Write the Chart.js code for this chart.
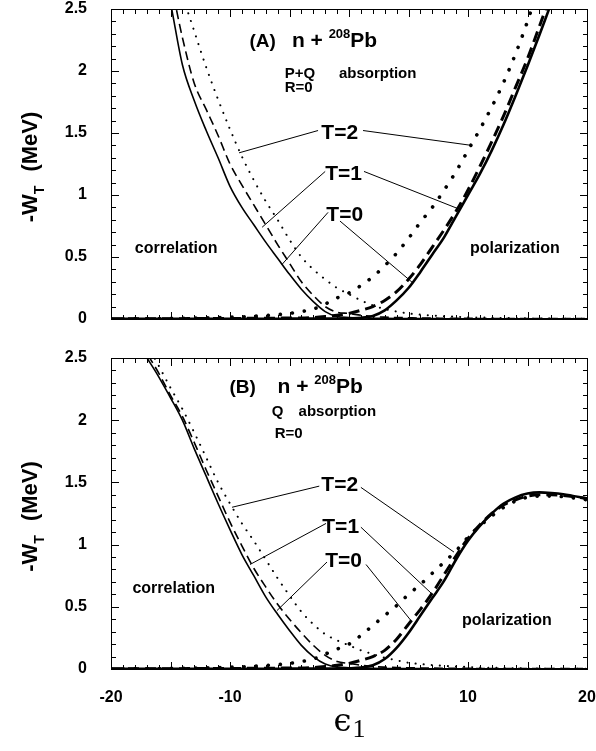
<!DOCTYPE html>
<html>
<head>
<meta charset="utf-8">
<script src="https://cdn.jsdelivr.net/npm/chart.js@4.4.0/dist/chart.umd.min.js"></script>
<style>
  html, body { margin: 0; padding: 0; background: #fff; }
  canvas { position: absolute; left: 0; }
  .frame { position: absolute; border: 1px solid #000; box-sizing: border-box; pointer-events: none; }
</style>
</head>
<body>
<canvas id="chartA" width="596" height="330" style="top:0"></canvas>
<canvas id="chartB" width="596" height="421" style="top:330px"></canvas>
<script>
// energy grid (epsilon_1)
const eps = [-20, -18, -16, -15, -14, -13, -12, -11, -10, -9, -8, -7, -6, -5, -4, -3, -2, -1, 0,
             1, 2, 3, 4, 5, 6, 7, 8, 9, 10, 11, 12, 13, 14, 15, 16, 17, 18, 20];

// (A) P+Q absorption - correlation part
const corrA_T0 = [4.6, 3.7, 3.0, 2.55, 2.05, 1.76, 1.52, 1.3, 1.07, 0.9, 0.76, 0.62, 0.49, 0.36, 0.24, 0.14, 0.06, 0.02, 0.012,
                  0.008, 0.006, 0.005, 0.004, 0.003, 0.003, 0.003, 0.002, 0.002, 0.002, 0.002, 0.002, 0.001, 0.001, 0.001, 0.001, 0.001, 0.001, 0.001];
const corrA_T1 = [4.8, 3.8, 3.1, 2.72, 2.27, 1.9, 1.69, 1.48, 1.25, 1.08, 0.92, 0.76, 0.6, 0.45, 0.3, 0.19, 0.1, 0.055, 0.045,
                  0.03, 0.02, 0.015, 0.012, 0.01, 0.008, 0.007, 0.006, 0.005, 0.005, 0.004, 0.004, 0.004, 0.003, 0.003, 0.003, 0.003, 0.003, 0.003];
const corrA_T2 = [5.0, 4.0, 3.3, 3.0, 2.62, 2.32, 2.03, 1.77, 1.53, 1.31, 1.12, 0.95, 0.8, 0.64, 0.5, 0.4, 0.32, 0.25, 0.2,
                  0.15, 0.11, 0.08, 0.06, 0.045, 0.035, 0.028, 0.022, 0.018, 0.015, 0.012, 0.01, 0.008, 0.006, 0.005, 0.004, 0.003, 0.002, 0.001];
// (A) polarization part
const polA_T0 = [0.001, 0.001, 0.001, 0.001, 0.001, 0.001, 0.001, 0.001, 0.002, 0.002, 0.002, 0.002, 0.002, 0.003, 0.003, 0.003, 0.003, 0.004, 0.006,
                 0.01, 0.025, 0.07, 0.15, 0.25, 0.38, 0.52, 0.66, 0.83, 1.0, 1.17, 1.36, 1.57, 1.8, 2.04, 2.29, 2.55, 2.83, 3.4];
const polA_T1 = [0.002, 0.002, 0.003, 0.003, 0.003, 0.004, 0.004, 0.004, 0.005, 0.005, 0.006, 0.006, 0.007, 0.008, 0.008, 0.012, 0.02, 0.03, 0.045,
                 0.07, 0.1, 0.15, 0.22, 0.32, 0.44, 0.58, 0.72, 0.87, 1.04, 1.23, 1.43, 1.64, 1.87, 2.1, 2.36, 2.63, 2.92, 3.5];
const polA_T2 = [0.002, 0.003, 0.004, 0.005, 0.006, 0.008, 0.01, 0.012, 0.015, 0.018, 0.022, 0.028, 0.035, 0.045, 0.06, 0.08, 0.12, 0.17, 0.21,
                 0.27, 0.34, 0.43, 0.53, 0.65, 0.78, 0.9, 1.04, 1.19, 1.36, 1.53, 1.71, 1.91, 2.14, 2.4, 2.7, 3.0, 3.3, 4.0];

// (B) Q absorption - correlation part
const corrB_T0 = [3.2, 2.68, 2.35, 2.18, 2.0, 1.77, 1.55, 1.33, 1.12, 0.92, 0.75, 0.58, 0.44, 0.31, 0.19, 0.1, 0.04, 0.015, 0.01,
                  0.007, 0.005, 0.004, 0.003, 0.003, 0.003, 0.002, 0.002, 0.002, 0.002, 0.002, 0.001, 0.001, 0.001, 0.001, 0.001, 0.001, 0.001, 0.001];
const corrB_T1 = [3.25, 2.72, 2.38, 2.2, 2.03, 1.82, 1.6, 1.39, 1.18, 0.99, 0.81, 0.66, 0.52, 0.4, 0.29, 0.19, 0.11, 0.06, 0.045,
                  0.03, 0.02, 0.015, 0.012, 0.01, 0.008, 0.007, 0.006, 0.005, 0.005, 0.004, 0.004, 0.004, 0.003, 0.003, 0.003, 0.003, 0.003, 0.003];
const corrB_T2 = [3.4, 2.8, 2.44, 2.26, 2.09, 1.9, 1.7, 1.5, 1.33, 1.17, 1.03, 0.88, 0.73, 0.59, 0.46, 0.36, 0.28, 0.23, 0.19,
                  0.15, 0.12, 0.09, 0.07, 0.05, 0.04, 0.032, 0.025, 0.02, 0.016, 0.013, 0.01, 0.008, 0.006, 0.005, 0.004, 0.003, 0.002, 0.001];
// (B) polarization part
const polB_T0 = [0.001, 0.001, 0.001, 0.001, 0.001, 0.001, 0.001, 0.001, 0.002, 0.002, 0.002, 0.002, 0.002, 0.003, 0.003, 0.003, 0.003, 0.004, 0.006,
                 0.012, 0.03, 0.08, 0.17, 0.29, 0.43, 0.57, 0.71, 0.88, 1.03, 1.15, 1.25, 1.33, 1.38, 1.41, 1.42, 1.415, 1.405, 1.37];
const polB_T1 = [0.002, 0.002, 0.003, 0.003, 0.003, 0.004, 0.004, 0.004, 0.005, 0.005, 0.006, 0.006, 0.007, 0.008, 0.008, 0.012, 0.02, 0.03, 0.045,
                 0.07, 0.1, 0.15, 0.24, 0.36, 0.48, 0.61, 0.76, 0.91, 1.05, 1.16, 1.25, 1.32, 1.36, 1.39, 1.4, 1.4, 1.395, 1.37];
const polB_T2 = [0.002, 0.003, 0.004, 0.005, 0.006, 0.008, 0.01, 0.012, 0.015, 0.018, 0.022, 0.028, 0.035, 0.045, 0.06, 0.08, 0.12, 0.16, 0.2,
                 0.27, 0.35, 0.43, 0.51, 0.6, 0.68, 0.77, 0.86, 0.95, 1.06, 1.15, 1.23, 1.3, 1.35, 1.38, 1.39, 1.39, 1.385, 1.36];

const SANS = '"Liberation Sans", Arial, Helvetica, sans-serif';

// line styles: correlation = thin, polarization = heavy
const styles = {
  corr0: { borderWidth: 1.6, borderDash: [] },
  corr1: { borderWidth: 1.6, borderDash: [9, 5] },
  corr2: { borderWidth: 2, borderDash: [0.1, 8], borderCapStyle: 'round' },
  pol0:  { borderWidth: 2.6, borderDash: [] },
  pol1:  { borderWidth: 3, borderDash: [11, 6] },
  pol2:  { borderWidth: 3.6, borderDash: [0.1, 12], borderCapStyle: 'round' }
};

function ds(vals, style) {
  return Object.assign({
    data: eps.map((e, i) => ({ x: e, y: vals[i] })),
    borderColor: '#000',
    pointRadius: 0,
    fill: false,
    cubicInterpolationMode: 'monotone'
  }, styles[style]);
}

// inward tick marks on all four sides (major every 5 / 0.5)
const ticksPlugin = {
  id: 'inticks',
  afterDraw(chart) {
    const { ctx, chartArea: a, scales: { x, y } } = chart;
    ctx.save();
    ctx.fillStyle = '#000';
    const L = Math.round(a.left), R = Math.round(a.right), T = Math.round(a.top), B = Math.round(a.bottom);
    ctx.fillRect(L, T, R - L + 1, 1);
    ctx.fillRect(L, B, R - L + 1, 1);
    ctx.fillRect(L, T, 1, B - T + 1);
    ctx.fillRect(R, T, 1, B - T + 1);
    for (let v = -20; v <= 20; v++) {
      const px = Math.round(x.getPixelForValue(v));
      const len = v % 5 === 0 ? 7 : 4;
      ctx.fillRect(px, B - len, 1, len);
      ctx.fillRect(px, T + 1, 1, len);
    }
    for (let i = 0; i <= 25; i++) {
      const py = Math.round(y.getPixelForValue(i / 10));
      const len = i % 5 === 0 ? 7 : 4;
      ctx.fillRect(L + 1, py, len, 1);
      ctx.fillRect(R - len, py, len, 1);
    }
    ctx.restore();
  }
};

// texts, pointer lines and axis titles
const notesPlugin = {
  id: 'notes',
  afterDraw(chart, args, opts) {
    const { ctx, chartArea: a, scales: { x, y } } = chart;
    const X = v => x.getPixelForValue(v);
    const Y = v => y.getPixelForValue(v);
    ctx.save();
    ctx.fillStyle = '#000';
    ctx.strokeStyle = '#000';
    ctx.textBaseline = 'alphabetic';
    (opts.texts || []).forEach(t => {
      let px = X(t.x);
      const py = Y(t.y);
      t.parts.forEach(p => {
        ctx.font = 'bold ' + p.size + 'px ' + SANS;
        ctx.textAlign = 'left';
        ctx.fillText(p.s, px, py - (p.rise || 0));
        px += ctx.measureText(p.s).width;
      });
    });

    ctx.lineWidth = 1;
    (opts.pointers || []).forEach(p => {
      ctx.font = 'bold 21px ' + SANS;
      ctx.textAlign = 'center';
      ctx.fillText(p.label, X(p.at[0]), Y(p.at[1]));
      ctx.beginPath();
      p.lines.forEach(l => {
        ctx.moveTo(X(l[0][0]), Y(l[0][1]));
        ctx.lineTo(X(l[1][0]), Y(l[1][1]));
      });
      ctx.stroke();
    });

    // y axis title  -W_T (MeV)
    ctx.translate(31, (a.top + a.bottom) / 2 + 3);
    ctx.rotate(-Math.PI / 2);
    const big = 'bold 22px ' + SANS, small = 'bold 14px ' + SANS;
    ctx.font = big; const w1 = ctx.measureText('-W').width; const w3 = ctx.measureText('(MeV)').width;
    ctx.font = small; const w2 = ctx.measureText('T').width;
    const gap = 14;
    let sx = -(w1 + w2 + gap + w3) / 2;
    ctx.textAlign = 'left';
    ctx.textBaseline = 'middle';
    ctx.font = big; ctx.fillText('-W', sx, 0); sx += w1;
    ctx.font = small; ctx.fillText('T', sx, 9); sx += w2 + gap;
    ctx.font = big; ctx.fillText('(MeV)', sx, 0);
    ctx.setTransform(1, 0, 0, 1, 0, 0);

    if (opts.xTitle) {
      const cx = X(0), cy = a.bottom + 62;
      ctx.textBaseline = 'alphabetic';
      ctx.textAlign = 'left';
      const fe = '32px "DejaVu Serif", serif', f1 = '26px "Liberation Serif", "Times New Roman", serif';
      ctx.font = fe; const we = ctx.measureText('\u03F5').width;
      ctx.font = f1; const w1b = ctx.measureText('1').width;
      const start = cx - (we + w1b) / 2;
      ctx.font = fe; ctx.fillText('\u03F5', start, cy);
      ctx.font = f1; ctx.fillText('1', start + we + 1, cy + 6);
    }
    ctx.restore();
  }
};

const axisBorder = { display: true, color: '#000', width: 1 };
const tickFont = { family: SANS, weight: 'bold', size: 16 };

function makeChart(id, datasets, cfg) {
  const canvas = document.getElementById(id);
  const chart = new Chart(canvas, {
    type: 'line',
    data: { datasets: datasets },
    options: {
      responsive: false,
      animation: false,
      devicePixelRatio: 1,
      layout: { padding: cfg.padding },
      plugins: {
        legend: { display: false },
        tooltip: { enabled: false },
        notes: cfg.notes
      },
      scales: {
        x: {
          type: 'linear', min: -20, max: 20,
          afterFit: s => { s.height = cfg.xHeight; s.paddingLeft = 0; s.paddingRight = 0; },
          grid: { display: false, drawTicks: false },
          border: axisBorder,
          ticks: { display: cfg.showX, stepSize: 10, padding: 19, color: '#000', font: tickFont }
        },
        xTop: {
          type: 'linear', position: 'top', min: -20, max: 20,
          afterFit: s => { s.height = 0; s.paddingLeft = 0; s.paddingRight = 0; },
          grid: { display: false, drawTicks: false },
          border: axisBorder,
          ticks: { display: false }
        },
        y: {
          type: 'linear', min: 0, max: 2.5,
          afterFit: s => { s.width = 111; s.paddingTop = 0; s.paddingBottom = 0; },
          grid: { display: false, drawTicks: false },
          border: axisBorder,
          ticks: { stepSize: 0.5, padding: 24, color: '#000', font: tickFont, callback: v => String(v) }
        },
        yRight: {
          type: 'linear', position: 'right', min: 0, max: 2.5,
          afterFit: s => { s.width = 0; s.paddingTop = 0; s.paddingBottom = 0; },
          grid: { display: false, drawTicks: false },
          border: axisBorder,
          ticks: { display: false }
        }
      }
    },
    plugins: [notesPlugin, ticksPlugin]
  });
  // plot frame, sized from the chart area
  const a = chart.chartArea;
  const box = document.createElement('div');
  box.className = 'frame';
  box.style.left = Math.round(a.left) + 'px';
  box.style.top = (canvas.offsetTop + Math.round(a.top)) + 'px';
  box.style.width = (Math.round(a.right - a.left) + 1) + 'px';
  box.style.height = (Math.round(a.bottom - a.top) + 1) + 'px';
  document.body.appendChild(box);
  return chart;
}

const nucleus = [{ s: 'n + ', size: 21 }, { s: '208', size: 13, rise: 9 }, { s: 'Pb', size: 21 }];

makeChart('chartA', [
  ds(corrA_T0, 'corr0'), ds(corrA_T1, 'corr1'), ds(corrA_T2, 'corr2'),
  ds(polA_T0, 'pol0'), ds(polA_T1, 'pol1'), ds(polA_T2, 'pol2')
], {
  padding: { top: 9, bottom: 0, right: 9, left: 0 },
  showX: false,
  xHeight: 11,
  notes: {
    texts: [
      { x: -8.36, y: 2.19, parts: [{ s: '(A)', size: 19 }] },
      { x: -4.8, y: 2.19, parts: nucleus },
      { x: -5.4, y: 1.94, parts: [{ s: 'P+Q', size: 15 }] },
      { x: -0.85, y: 1.94, parts: [{ s: 'absorption', size: 15 }] },
      { x: -5.4, y: 1.83, parts: [{ s: 'R=0', size: 15 }] },
      { x: -18.0, y: 0.53, parts: [{ s: 'correlation', size: 16 }] },
      { x: 10.16, y: 0.53, parts: [{ s: 'polarization', size: 16 }] }
    ],
    pointers: [
      { label: 'T=2', at: [-0.78, 1.455], lines: [[[-2.6, 1.52], [-9.24, 1.34]], [[1.18, 1.52], [10.3, 1.40]]] },
      { label: 'T=1', at: [-0.45, 1.117], lines: [[[-2.0, 1.19], [-7.3, 0.74]], [[1.26, 1.19], [9.16, 0.89]]] },
      { label: 'T=0', at: [-0.36, 0.794], lines: [[[-1.76, 0.86], [-5.63, 0.44]], [[-0.76, 0.79], [5.38, 0.29]]] }
    ]
  }
});

makeChart('chartB', [
  ds(corrB_T0, 'corr0'), ds(corrB_T1, 'corr1'), ds(corrB_T2, 'corr2'),
  ds(polB_T0, 'pol0'), ds(polB_T1, 'pol1'), ds(polB_T2, 'pol2')
], {
  padding: { top: 28, bottom: 0, right: 9, left: 0 },
  showX: true,
  xHeight: 82,
  notes: {
    xTitle: true,
    texts: [
      { x: -10.04, y: 2.22, parts: [{ s: '(B)', size: 19 }] },
      { x: -6.0, y: 2.22, parts: nucleus },
      { x: -6.5, y: 2.03, parts: [{ s: 'Q', size: 15 }] },
      { x: -4.24, y: 2.03, parts: [{ s: 'absorption', size: 15 }] },
      { x: -6.25, y: 1.86, parts: [{ s: 'R=0', size: 15 }] },
      { x: -18.2, y: 0.61, parts: [{ s: 'correlation', size: 16 }] },
      { x: 9.5, y: 0.35, parts: [{ s: 'polarization', size: 16 }] }
    ],
    pointers: [
      { label: 'T=2', at: [-0.78, 1.427], lines: [[[-2.5, 1.47], [-9.83, 1.30]], [[1.0, 1.46], [8.82, 0.94]]] },
      { label: 'T=1', at: [-0.7, 1.097], lines: [[[-1.93, 1.17], [-8.32, 0.84]], [[1.0, 1.14], [6.9, 0.61]]] },
      { label: 'T=0', at: [-0.45, 0.816], lines: [[[-1.85, 0.86], [-6.05, 0.47]], [[1.43, 0.84], [5.2, 0.39]]] }
    ]
  }
});
</script>
</body>
</html>
